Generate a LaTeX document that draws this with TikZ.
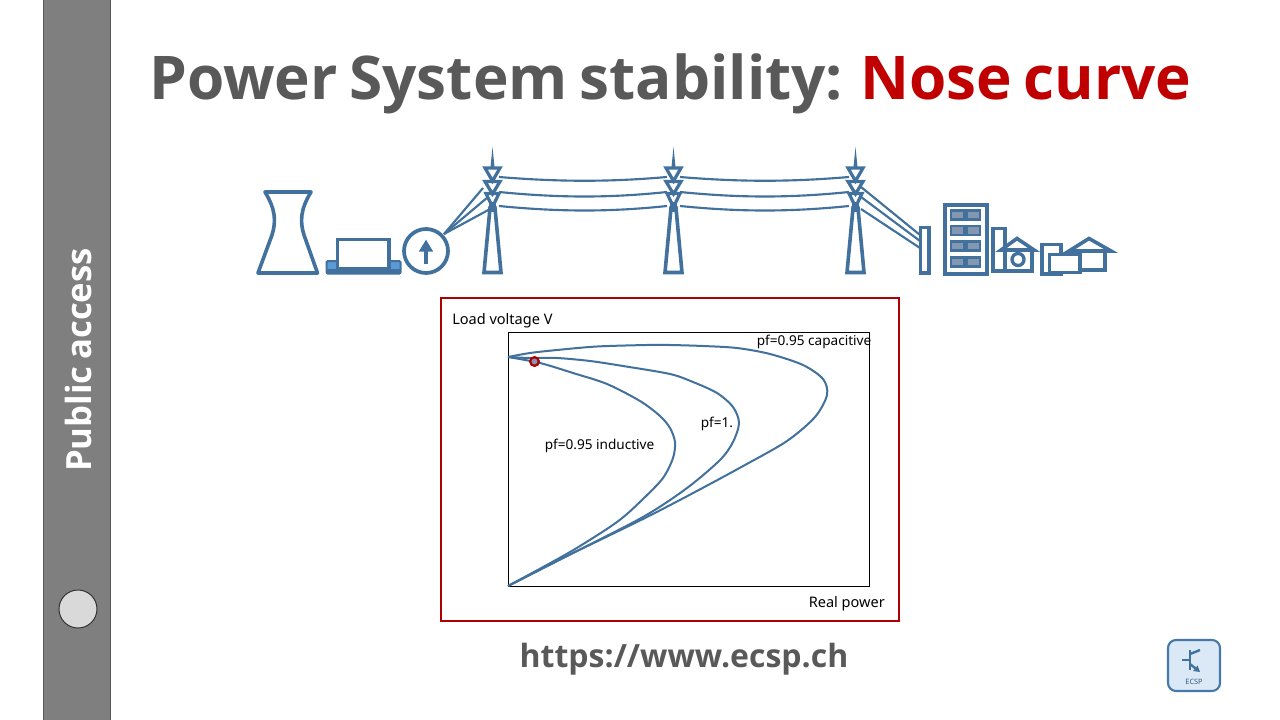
\documentclass[tikz,border=0pt]{standalone}
\usepackage{fontspec}
\setmainfont{Noto Sans}
\newfontfamily\osans{Open Sans}
\newfontfamily\otitle[WordSpace=0.75]{Open Sans}
\usetikzlibrary{arrows.meta}
\definecolor{pblue}{HTML}{41719C}
\definecolor{lblue}{HTML}{5B9BD5}
\definecolor{tgray}{HTML}{595959}
\definecolor{tred}{HTML}{C00000}
\definecolor{fgray}{HTML}{7F7F7F}
\definecolor{wgray}{HTML}{8497B0}
\tikzset{
  pw/.style={draw=pblue,line width=2.7pt,line join=miter},
  wire/.style={draw=pblue,line width=1.6pt},
  curve/.style={draw=pblue,line width=1.5pt,line join=round,smooth,tension=0.5},
  lab/.style={font=\fontsize{10.2pt}{12pt}\selectfont,text=black,inner sep=0pt},
  biglab/.style={lab,font=\fontsize{10.9pt}{13pt}\selectfont},
  win/.style={draw=pblue,line width=2pt,fill=wgray},
}
\newcommand{\pylon}[1]{%
  \begin{scope}[shift={(#1,0)}]
    \fill[pblue] (-2,167) -- (0,147) -- (2,167) -- cycle;
    \draw[pblue,line width=2.4pt,line join=miter] (-7.5,168) -- (7.5,168) -- (0,181) -- cycle;
    \draw[pblue,line width=2.4pt,line join=miter] (-7.5,181.5) -- (7.5,181.5) -- (0,194) -- cycle;
    \draw[pblue,line width=2.4pt,line join=miter] (-6.5,193.5) -- (6.5,193.5) -- (0,207) -- cycle;
    \fill[pblue] (-3.5,202) -- (3.5,202) -- (3.5,212) -- (-3.5,212) -- cycle;
    \draw[pblue,line width=2.7pt,line join=miter] (-2.5,208) -- (2.5,208) -- (8.5,272.5) -- (-8.5,272.5) -- cycle;
  \end{scope}}
\begin{document}
\begin{tikzpicture}[x=0.75pt,y=-0.75pt]
\useasboundingbox (0,0) rectangle (1280,720);
\fill[white] (0,0) rectangle (1280,720);

% sidebar
\draw[fill=fgray,draw=black!65,line width=0.75pt] (43,-2) rectangle (110,722);
\node[rotate=90,text=white,font=\osans\bfseries\fontsize{26pt}{32pt}\selectfont,inner sep=0pt] (side) at (78,360) {Public access};
\node[circle,draw=black!80,fill=black!15,line width=0.75pt,minimum size=28.5pt,inner sep=0pt] (knob) at (78,609) {};

% title
\node[anchor=base west,inner sep=0pt,font=\otitle\bfseries\fontsize{45.2pt}{54pt}\selectfont,text=tgray] (title) at (149,100) {Power System stability: \textcolor{tred}{Nose curve}};

% cooling tower
\draw[pw,line join=round] (265,192) -- (311,192) .. controls (300,210) and (300,222) .. (304,235) -- (317.5,273) -- (258,273) -- (272,235) .. controls (276,222) and (276,210) .. (265,192) -- cycle;

% generator hall
\draw[pblue,fill=lblue,line width=1.5pt,rounded corners=1pt] (326.5,261) rectangle (400.5,273.5);
\fill[pblue] (326,269) rectangle (401,274);
\draw[pw,fill=white] (337.5,239.5) rectangle (389,269);

% generator
\node[circle,draw=pblue,line width=2.8pt,fill=white,minimum size=33pt,inner sep=0pt] (gen) at (426,251) {};
\coordinate (arrowlow) at (426,264);
\coordinate (arrowhigh) at (426,239.5);
\draw[pblue,line width=2.8pt,-{Triangle[length=9pt,width=10pt]}] (arrowlow) -- (arrowhigh);

% wires
\coordinate (gw) at (444,234);
\draw[wire] (gw) -- (483,188);
\draw[wire] (gw) -- (488,197);
\draw[wire] (gw) -- (492,208);
\foreach \a/\b in {177/181,192/197,206/211}{
  \draw[wire] (499,\a) .. controls (560,\b+1) and (610,\b+1) .. (667,\a);
  \draw[wire] (680,\a) .. controls (740,\b+1) and (790,\b+1) .. (849,\a);
}
\pylon{492.5}
\pylon{673.5}
\pylon{855.5}
\draw[wire] (861,187) -- (920,235);
\draw[wire] (861,197) -- (920,241);
\draw[wire] (861,209) -- (920,248);

% consumers
\draw[pw,line width=2.4pt] (920.5,227.5) rectangle (929,273);
\draw[pw] (945,205) rectangle (987,274);
\foreach \yy/\yt in {210.5/219.5,226/235,241.5/250.5,257.5/266.5}{
  \draw[win] (951,\yy) rectangle (964,\yt);
  \draw[win] (966.5,\yy) rectangle (980,\yt);
}
\draw[pw] (993,228.5) rectangle (1005,271);
\draw[pw] (1005,250) rectangle (1032,271);
\draw[pw,fill=white] (1001,250) -- (1017,238.5) -- (1034,250) -- cycle;
\node[circle,draw=pblue,line width=2.5pt,minimum size=9pt,inner sep=0pt] (wheel) at (1018,259.5) {};
\draw[pw] (1042,244.5) rectangle (1061,274);
\draw[pw] (1080,251) rectangle (1105,270);
\draw[pw,fill=white] (1069,251) -- (1089,238.5) -- (1111,251) -- cycle;
\draw[pw,fill=white] (1049.5,254.5) rectangle (1080,272.5);

% plot frame
\draw[draw=tred!90!black,line width=1.5pt] (441,298) rectangle (899,621);
\draw[black,line width=0.7pt] (508,332) rectangle (869,586);
\node[biglab,anchor=base west] (ylab) at (452,324) {Load voltage V};
\node[biglab,anchor=base east] (xlab) at (885,607) {Real power};

% curves
\draw[curve] plot coordinates {(508,357) (530,353) (557,350) (597,346.5) (647,345) (670,345) (703,346) (737,348) (770,354) (803,365) (823,379) (827,395) (815,417) (787,441) (745,465) (695,492) (643,519) (567,556) (508,586)};
\draw[curve] plot coordinates {(508,357) (530,358) (557,358) (590,361) (623,366) (670,374) (693,382) (717,393) (733,407) (739,423) (733,442) (720,460) (687,488) (643,517) (567,556) (508,586)};
\draw[curve] plot coordinates {(508,357) (540,363) (573,373) (607,384) (640,401) (660,416) (670,428) (675,442) (673,458) (663,478) (643,499) (617,522) (570,552) (508,586)};
\node[circle,draw=tred!90!black,fill=wgray,line width=1.7pt,minimum size=6.5pt,inner sep=0pt] (op) at (534.5,361.5) {};
\node[lab,anchor=base west] (capl) at (756.5,345) {pf=0.95 capacitive};
\node[lab,anchor=base west] (unil) at (700.5,427) {pf=1.};
\node[lab,anchor=base west] (indl) at (544.5,449) {pf=0.95 inductive};

% url
\node[anchor=base,inner sep=0pt,font=\osans\bfseries\fontsize{24pt}{30pt}\selectfont,text=tgray] (url) at (684,667) {https://www.ecsp.ch};

% logo
\draw[draw=pblue!80!lblue,fill=lblue!22,line width=1.6pt,rounded corners=6pt] (1168,640) rectangle (1220,691);
\draw[pblue,line width=1.8pt] (1190,650) -- (1190,670);
\draw[pblue,line width=1.8pt] (1182,660) -- (1190,660);
\draw[pblue,line width=1.8pt] (1190,654) -- (1200,650);
\draw[pblue,line width=1.8pt,-{Triangle[length=4.5pt,width=5pt]}] (1190,664) -- (1200,672);
\node[inner sep=0pt,font=\bfseries\fontsize{5.5pt}{6pt}\selectfont,text=pblue!80!black] (logotext) at (1194,682) {\textbf{ECSP}};
\end{tikzpicture}
\end{document}
